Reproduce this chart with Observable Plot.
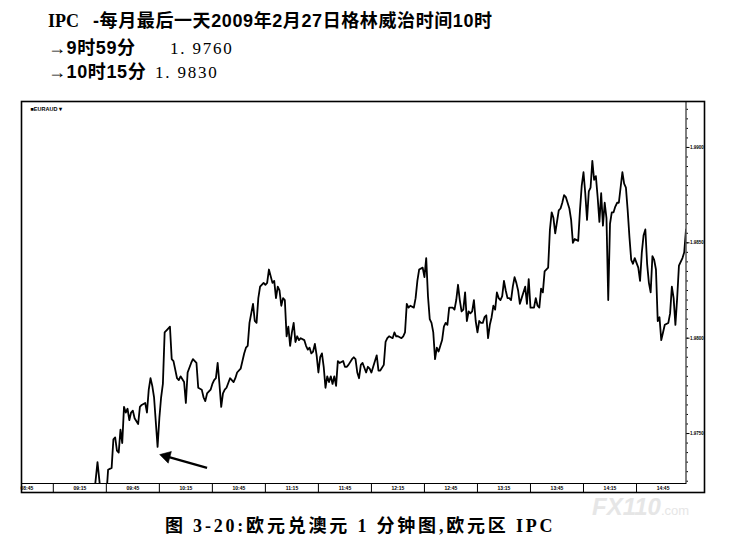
<!DOCTYPE html>
<html><head><meta charset="utf-8">
<script src="https://cdn.jsdelivr.net/npm/d3@7"></script>
<script src="https://cdn.jsdelivr.net/npm/@observablehq/plot@0.6"></script>
<style>
body{margin:0;background:#fff;}
#page{position:relative;width:739px;height:553px;overflow:hidden;background:#fff;}
.t{position:absolute;white-space:pre;line-height:1;color:#000;font-size:18px;font-weight:bold;letter-spacing:0.6px;font-family:"Liberation Sans","Noto Sans CJK SC",sans-serif;}
.ipc{font-family:"Liberation Serif",serif;font-weight:bold;letter-spacing:0;}
.num{font-family:"Liberation Serif",serif;font-weight:normal;font-size:17px;letter-spacing:1.8px;}
#chart{position:absolute;left:0;top:93px;}
#cap{position:absolute;left:165px;top:517px;font-size:18px;font-weight:bold;letter-spacing:2.8px;white-space:pre;line-height:1;font-family:"Liberation Serif","Noto Sans CJK SC",serif;}
#wm{position:absolute;left:592px;top:495px;color:#e6e6e6;font-family:"Liberation Sans",sans-serif;font-weight:bold;font-style:italic;font-size:24px;white-space:pre;line-height:1;}
#wm span{font-size:13px;font-style:normal;font-weight:normal;}
</style></head>
<body><div id="page">
<div id="wm">FX110<span>.com</span></div>
<div class="t ipc" style="left:48px;top:12px;">IPC</div>
<div class="t" style="left:93px;top:12px;">-每月最后一天2009年2月27日格林威治时间10时</div>
<div class="t" style="left:48px;top:39px;">→9时59分</div>
<div class="t num" style="left:170px;top:40px;">1. 9760</div>
<div class="t" style="left:48px;top:63px;">→10时15分</div>
<div class="t num" style="left:155px;top:64px;">1. 9830</div>
<div id="chart"></div>
<div id="cap">图 3-20:欧元兑澳元 1 分钟图,欧元区 IPC</div>
</div>
<script>
// EUR/AUD 1-minute closes, 27 Feb 2009
const times = [
"09:23","09:25","09:27","09:30","09:31","09:33","09:34","09:35","09:36","09:37","09:38","09:39","09:40","09:41","09:42","09:43","09:44","09:45","09:46","09:48","09:49","09:50","09:52","09:53","09:54","09:55","09:56","09:57","09:59",
"10:00","10:01","10:02","10:03","10:05","10:06","10:07","10:08","10:10","10:11","10:12","10:14","10:15","10:16","10:18","10:19","10:21","10:22","10:24","10:25","10:26","10:27","10:29","10:30","10:31","10:32","10:33","10:34","10:35","10:36","10:37","10:38","10:40","10:42","10:43","10:44","10:46","10:48","10:49","10:50","10:51","10:53","10:54","10:55","10:56","10:57","10:59",
"11:00","11:01","11:02","11:04","11:05","11:06","11:07","11:08","11:09","11:10","11:11","11:12","11:13","11:14","11:15","11:16","11:17","11:18","11:19","11:20","11:22","11:23","11:24","11:25","11:26","11:27","11:28","11:29","11:30","11:31","11:32","11:33","11:34","11:35","11:36","11:37","11:38","11:39","11:40","11:41","11:42","11:44","11:45","11:46","11:47","11:49","11:50","11:51","11:52","11:53","11:54","11:55","11:57","11:58","11:59",
"12:00","12:01","12:03","12:04","12:05","12:07","12:08","12:09","12:10","12:12","12:13","12:14","12:15","12:17","12:18","12:19","12:20","12:21","12:22","12:24","12:25","12:26","12:27","12:29","12:30","12:31","12:32","12:33","12:34","12:35","12:36","12:37","12:38","12:39","12:40","12:41","12:42","12:43","12:44","12:46","12:47","12:48","12:49","12:50","12:51","12:52","12:53","12:54","12:55","12:56","12:57","12:58","12:59",
"13:00","13:01","13:02","13:03","13:04","13:05","13:06","13:07","13:08","13:09","13:10","13:11","13:12","13:13","13:14","13:15","13:16","13:17","13:18","13:19","13:20","13:21","13:22","13:23","13:24","13:25","13:27","13:28","13:29","13:30","13:31","13:32","13:33","13:34","13:35","13:36","13:37","13:38","13:40","13:41","13:42","13:43","13:44","13:45","13:46","13:47","13:48","13:49","13:50","13:51","13:52","13:53","13:54","13:55","13:57","13:58","13:59",
"14:00","14:01","14:02","14:03","14:04","14:05","14:06","14:07","14:08","14:09","14:10","14:11","14:12","14:13","14:14","14:15","14:16","14:17","14:18","14:19","14:20","14:22","14:23","14:24","14:25","14:26","14:27","14:28","14:29","14:31","14:32","14:33","14:34","14:35","14:36","14:37","14:38","14:39","14:40","14:41","14:42","14:43","14:44","14:45","14:46","14:48","14:49","14:50","14:51","14:52","14:53","14:54","14:55","14:56","14:57","14:58"
];
const prices = [
1.9717,1.9735,1.9717,1.9717,1.9731,1.9732,1.9747,1.9748,1.9741,1.9740,1.9752,1.9745,1.9764,1.9761,1.9763,1.9757,1.9761,1.9762,1.9758,1.9755,1.9764,1.9765,1.9766,1.9761,1.9773,1.9779,1.9775,1.9769,1.9743,
1.9758,1.9769,1.9776,1.9803,1.9805,1.9806,1.9789,1.9788,1.9779,1.9778,1.9780,1.9777,1.9766,1.9782,1.9787,1.9789,1.9787,1.9774,1.9773,1.9769,1.9767,1.9771,1.9773,1.9776,1.9778,1.9779,1.9787,1.9776,1.9764,1.9771,1.9773,1.9774,1.9779,1.9777,1.9779,1.9782,1.9784,1.9792,1.9795,1.9796,1.9808,1.9818,1.9809,1.9808,1.9821,1.9827,1.9829,
1.9828,1.9829,1.9836,1.9829,1.9830,1.9821,1.9827,1.9825,1.9817,1.9821,1.9820,1.9801,1.9806,1.9796,1.9803,1.9808,1.9798,1.9801,1.9799,1.9800,1.9799,1.9796,1.9794,1.9795,1.9792,1.9793,1.9797,1.9791,1.9782,1.9790,1.9792,1.9785,1.9774,1.9780,1.9777,1.9780,1.9776,1.9780,1.9775,1.9788,1.9787,1.9788,1.9785,1.9785,1.9786,1.9789,1.9790,1.9789,1.9782,1.9779,1.9786,1.9787,1.9782,1.9785,1.9784,
1.9782,1.9785,1.9791,1.9783,1.9783,1.9786,1.9798,1.9800,1.9801,1.9800,1.9803,1.9801,1.9801,1.9800,1.9801,1.9803,1.9818,1.9816,1.9817,1.9816,1.9821,1.9830,1.9836,1.9837,1.9832,1.9842,1.9822,1.9810,1.9808,1.9803,1.9789,1.9795,1.9793,1.9796,1.9799,1.9806,1.9808,1.9807,1.9816,1.9816,1.9815,1.9820,1.9828,1.9820,1.9814,1.9815,1.9824,1.9809,1.9814,1.9813,1.9814,1.9820,1.9809,
1.9803,1.9809,1.9808,1.9808,1.9811,1.9812,1.9800,1.9807,1.9811,1.9817,1.9815,1.9824,1.9821,1.9820,1.9822,1.9830,1.9825,1.9821,1.9821,1.9820,1.9827,1.9832,1.9829,1.9825,1.9818,1.9821,1.9827,1.9818,1.9831,1.9816,1.9816,1.9816,1.9821,1.9817,1.9816,1.9826,1.9824,1.9835,1.9837,1.9857,1.9866,1.9863,1.9855,1.9861,1.9867,1.9868,1.9871,1.9875,1.9874,1.9871,1.9868,1.9862,1.9850,1.9852,1.9851,1.9867,1.9880,
1.9887,1.9876,1.9862,1.9877,1.9879,1.9893,1.9883,1.9885,1.9874,1.9861,1.9876,1.9859,1.9871,1.9863,1.9820,1.9860,1.9866,1.9866,1.9869,1.9871,1.9871,1.9887,1.9881,1.9879,1.9867,1.9853,1.9841,1.9839,1.9842,1.9837,1.9830,1.9845,1.9854,1.9857,1.9839,1.9829,1.9824,1.9843,1.9841,1.9836,1.9809,1.9811,1.9799,1.9803,1.9807,1.9808,1.9813,1.9827,1.9821,1.9807,1.9821,1.9838,1.9840,1.9842,1.9845,1.9857
];
const yTicks = [1.9750, 1.9800, 1.9850, 1.9900];
const separatorTimes = ["09:00","09:30","10:00","10:30","11:00","11:30","12:00","12:30","13:00","13:30","14:00","14:30"];
const tickLabels = ["08:45","09:15","09:45","10:15","10:45","11:15","11:45","12:15","12:45","13:15","13:45","14:15","14:45"];
const timeRange = ["08:42","14:58"];
const priceRange = [1.97238, 1.99241];
const arrowTail = {time:"10:27", price:1.9732};
const arrowHead = {time:"10:04", price:1.9738};
const symbolName = "EURAUD";

const t = s => new Date(Date.UTC(2009, 1, 27, +s.slice(0,2), +s.slice(3,5)));
const data = times.map((s,i) => ({time: t(s), price: prices[i]}));
const minorTicks = d3.range(0, 41).map(i => +(1.9725 + i*0.0005).toFixed(4));

const chart = Plot.plot({
  width: 739, height: 412,
  marginLeft: 21, marginRight: 53.5, marginTop: 8, marginBottom: 22,
  style: {background: "transparent", color: "#000", fontFamily: "Liberation Sans, Arial, sans-serif"},
  x: {type: "utc", domain: timeRange.map(t), label: null},
  y: {domain: priceRange, label: null},
  marks: [
    Plot.frame({insetRight: -18.5, insetBottom: -9, stroke: "#000", strokeWidth: 1.6}),
    Plot.frame({stroke: "#000", strokeWidth: 1}),
    Plot.axisX({ticks: separatorTimes.map(t), tickSize: 9, tickFormat: () => "", strokeWidth: 1}),
    Plot.axisX({ticks: tickLabels.map(t), tickSize: 0, tickPadding: 2.5, fontSize: 5, fontWeight: "bold", tickFormat: d3.utcFormat("%H:%M")}),
    Plot.axisY({anchor: "right", ticks: minorTicks.filter(v => v > priceRange[0] && v < priceRange[1]), tickSize: 1.5, tickFormat: () => ""}),
    Plot.axisY({anchor: "right", ticks: yTicks, tickSize: 3, tickPadding: 1, fontSize: 4.5, fontWeight: "bold", tickFormat: d => d.toFixed(4)}),
    Plot.text([symbolName], {frameAnchor: "top-left", dx: 9, dy: 6, text: d => "■" + d + " ▾", fontSize: 5.5, fontWeight: "bold"}),
    Plot.line(data, {x: "time", y: "price", stroke: "#000", strokeWidth: 1.8, strokeLinejoin: "round", clip: true}),
    Plot.link([{a: arrowTail, b: arrowHead}], {x1: d => t(d.a.time), y1: d => d.a.price, x2: d => t(d.b.time), y2: d => d.b.price, stroke: "#000", strokeWidth: 2.2}),
    Plot.dot([arrowHead], {x: d => t(d.time), y: "price", symbol: "triangle", r: 4.5, fill: "#000", stroke: "#000", strokeWidth: 0.5, rotate: 285})
  ]
});
document.getElementById("chart").appendChild(chart);
</script>
</body></html>
